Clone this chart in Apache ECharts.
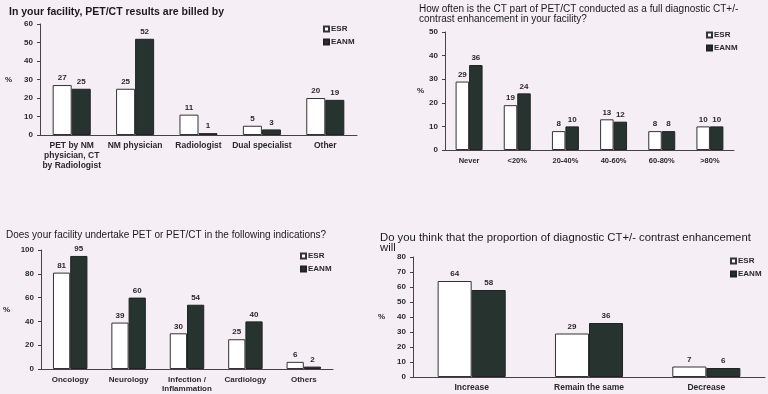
<!DOCTYPE html>
<html>
<head>
<meta charset="utf-8">
<script src="https://cdn.jsdelivr.net/npm/echarts@6/dist/echarts.min.js"></script>
<style>
  html, body { margin: 0; padding: 0; background: #f6eef5; }
  #main { width: 768px; height: 394px; }
</style>
</head>
<body>
<div id="main"></div>
<script>
// 数据 - billed by
const billedCats = ['PET by NM\nphysician, CT\nby Radiologist', 'NM physician', 'Radiologist', 'Dual specialist', 'Other'];
const billedESR = [27, 25, 11, 5, 20];
const billedEANM = [25, 52, 1, 3, 19];

// 数据 - full diagnostic CT
const ctCats = ['Never', '<20%', '20-40%', '40-60%', '60-80%', '>80%'];
const ctESR = [29, 19, 8, 13, 8, 10];
const ctEANM = [36, 24, 10, 12, 8, 10];

// 数据 - indications
const indCats = ['Oncology', 'Neurology', 'Infection /\nInflammation', 'Cardiology', 'Others'];
const indESR = [81, 39, 30, 25, 6];
const indEANM = [95, 60, 54, 40, 2];

// 数据 - proportion will
const propCats = ['Increase', 'Remain the same', 'Decrease'];
const propESR = [64, 29, 7];
const propEANM = [58, 36, 6];

const font = 'Liberation Sans, Arial, sans-serif';
const ink = '#2a2a2a';
const dark = '#26332f';

const chart = echarts.init(document.getElementById('main'));

// 坐标轴通用
function xAxis(idx, cats, size) {
  return {
    type: 'category', gridIndex: idx, data: cats,
    axisLine: { lineStyle: { color: '#444', width: 1 } },
    axisTick: { show: false },
    axisLabel: { interval: 0, fontSize: size, color: ink, fontFamily: font, fontWeight: 'bold', lineHeight: size + 1.5, margin: 6 }
  };
}
function yAxis(idx, max, interval, gap) {
  return {
    type: 'value', gridIndex: idx, min: 0, max: max, interval: interval,
    name: '%', nameLocation: 'middle', nameGap: gap, nameRotate: 0,
    nameTextStyle: { fontSize: 8, color: ink, fontFamily: font, fontWeight: 'bold' },
    splitLine: { show: false },
    axisLine: { show: true, lineStyle: { color: '#444', width: 1 } },
    axisTick: { show: true, length: 3, lineStyle: { color: '#444' } },
    axisLabel: { fontSize: 8, color: ink, fontFamily: font, fontWeight: 'bold', margin: 7 }
  };
}
function bars(idx, esr, eanm, gapPct) {
  const lbl = { show: true, position: 'top', distance: 3, fontSize: 8, color: ink, fontFamily: font, fontWeight: 'bold' };
  return [
    { name: 'ESR', type: 'bar', xAxisIndex: idx, yAxisIndex: idx, data: esr, barGap: '0%', barCategoryGap: gapPct,
      itemStyle: { color: '#ffffff', borderColor: '#333', borderWidth: 1 }, label: lbl },
    { name: 'EANM', type: 'bar', xAxisIndex: idx, yAxisIndex: idx, data: eanm, barGap: '0%', barCategoryGap: gapPct,
      itemStyle: { color: dark, borderColor: '#222', borderWidth: 1 }, label: lbl }
  ];
}
function legend(left, top) {
  return {
    left: left, top: top, orient: 'vertical', itemWidth: 5, itemHeight: 5, itemGap: 5,
    icon: 'rect', data: ['ESR', 'EANM'],
    textStyle: { fontSize: 8, color: ink, fontFamily: font, fontWeight: 'bold', padding: [0, 0, 0, -3] }
  };
}
function title(text, left, top, size, weight, lh) {
  return { text: text, left: left, top: top, padding: 0,
    textStyle: { fontSize: size, color: '#1a1a1a', fontFamily: font, fontWeight: weight, lineHeight: lh || size } };
}

const option = {
  backgroundColor: '#f6eef5',
  animation: false,
  title: [
    title('In your facility, PET/CT results are billed by', 9, 7, 10.5, 'bold'),
    title('How often is the CT part of PET/CT conducted as a full diagnostic CT+/-\ncontrast enhancement in your facility?', 419, 4, 10, 'normal'),
    title('Does your facility undertake PET or PET/CT in the following indications?', 6, 230, 10, 'normal'),
    title('Do you think that the proportion of diagnostic CT+/- contrast enhancement\nwill', 380, 233, 11.3, 'normal', 10)
  ],
  legend: [legend(318, 20), legend(701, 26), legend(295, 247), legend(725, 252)],
  grid: [
    { left: 40, top: 24, width: 317, height: 111 },
    { left: 445, top: 32, width: 289, height: 118 },
    { left: 41, top: 250, width: 292, height: 122 },
    { left: 413, top: 257, width: 352, height: 120 }
  ],
  xAxis: [xAxis(0, billedCats, 8.5), xAxis(1, ctCats, 7.5), xAxis(2, indCats, 8), xAxis(3, propCats, 8.5)],
  yAxis: [yAxis(0, 60, 10, 28), yAxis(1, 50, 10, 14), yAxis(2, 100, 20, 31), yAxis(3, 80, 10, 28)],
  series: [].concat(
    bars(0, billedESR, billedEANM, '40%'),
    bars(1, ctESR, ctEANM, '44%'),
    bars(2, indESR, indEANM, '41%'),
    bars(3, propESR, propEANM, '42%')
  )
};

chart.setOption(option);
</script>
</body>
</html>
